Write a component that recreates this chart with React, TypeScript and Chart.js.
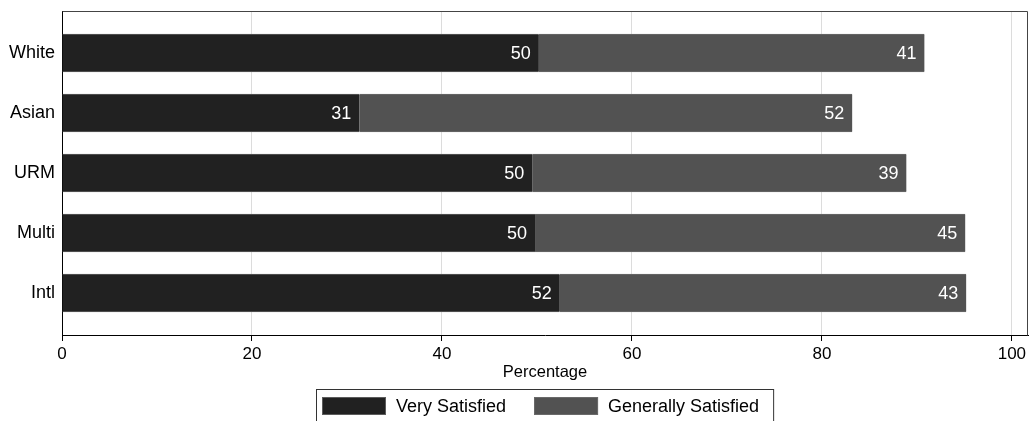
import React, { useEffect, useRef } from 'react';
import { Chart, registerables } from 'chart.js';

Chart.register(...registerables);

const categories = ['White', 'Asian', 'URM', 'Multi', 'Intl'];
const verySatisfied = [50.2, 31.3, 49.5, 49.8, 52.4];
const generallySatisfied = [40.6, 51.9, 39.4, 45.3, 42.8];
const seriesNames = ['Very Satisfied', 'Generally Satisfied'];
const seriesColors = ['#212121', '#525252'];
const seriesBorders = ['#5c5c5c', '#6a6a6a'];
const xTicks = [0, 20, 40, 60, 80, 100];
const xTitle = 'Percentage';

const FONT = '"Liberation Sans", Arial, Helvetica, sans-serif';

const frameAndLabels = {
  id: 'frameAndLabels',
  afterDatasetsDraw(chart: any) {
    const ctx = chart.ctx;
    ctx.save();
    ctx.font = `18px ${FONT}`;
    ctx.fillStyle = '#ffffff';
    ctx.textAlign = 'right';
    ctx.textBaseline = 'middle';
    chart.data.datasets.forEach((ds: any, di: number) => {
      const meta = chart.getDatasetMeta(di);
      meta.data.forEach((el: any, i: number) => {
        const p = el.getProps(['x', 'y'], true);
        const v = ds.data[i].x;
        ctx.fillText(String(Math.round(v)), p.x - 8, p.y + 1);
      });
    });
    ctx.restore();
  },
  afterDraw(chart: any) {
    const ctx = chart.ctx;
    const a = chart.chartArea;
    ctx.save();
    // frame top and right
    ctx.strokeStyle = '#444444';
    ctx.lineWidth = 1;
    ctx.beginPath();
    ctx.moveTo(Math.round(a.left) + 0.5, Math.round(a.top) + 0.5);
    ctx.lineTo(Math.round(a.right) - 0.5, Math.round(a.top) + 0.5);
    ctx.lineTo(Math.round(a.right) - 0.5, Math.round(a.bottom) + 0.5);
    ctx.stroke();

    // legend
    ctx.font = `18px ${FONT}`;
    const swW = 64, swH = 18, gapText = 10, gapItem = 28, padL = 6, padR = 14;
    const widths = seriesNames.map((n) => ctx.measureText(n).width);
    const total = padL + widths.reduce((s, w) => s + swW + gapText + w, 0) + gapItem * (seriesNames.length - 1) + padR;
    const cx = (a.left + a.right) / 2;
    const left = Math.round(cx - total / 2);
    const top = 389;
    ctx.strokeStyle = '#333333';
    ctx.strokeRect(left + 0.5, top + 0.5, total, 60);
    let x = left + padL;
    ctx.textAlign = 'left';
    ctx.textBaseline = 'middle';
    seriesNames.forEach((n, i) => {
      ctx.fillStyle = seriesColors[i];
      ctx.fillRect(x, top + 8, swW, swH);
      ctx.strokeStyle = seriesBorders[i];
      ctx.strokeRect(x + 0.5, top + 8.5, swW - 1, swH - 1);
      x += swW + gapText;
      ctx.fillStyle = '#000000';
      ctx.fillText(n, x, top + 8 + swH / 2 + 1);
      x += widths[i] + gapItem;
    });
    ctx.restore();
  },
};

export default function App() {
  const ref = useRef<HTMLCanvasElement | null>(null);
  useEffect(() => {
    if (!ref.current) return;
    const toPts = (arr: number[]) => arr.map((v, i) => ({ x: v, y: i }));
    const chart = new Chart(ref.current, {
      type: 'bar',
      data: {
        datasets: [
          {
            label: seriesNames[0],
            data: toPts(verySatisfied),
            backgroundColor: seriesColors[0],
            borderColor: seriesBorders[0],
            borderWidth: { top: 1, bottom: 1, left: 0, right: 0 },
            borderSkipped: false,
            barThickness: 38,
          },
          {
            label: seriesNames[1],
            data: toPts(generallySatisfied),
            backgroundColor: seriesColors[1],
            borderColor: seriesBorders[1],
            borderWidth: { top: 1, bottom: 1, left: 0, right: 0 },
            borderSkipped: false,
            barThickness: 38,
          },
        ] as any,
      },
      plugins: [frameAndLabels],
      options: {
        indexAxis: 'y',
        animation: false,
        responsive: true,
        maintainAspectRatio: false,
        layout: { padding: { top: 11, right: 1, left: 0, bottom: 38 } },
        plugins: {
          legend: { display: false },
          tooltip: { enabled: false },
        },
        scales: {
          x: {
            type: 'linear',
            stacked: true,
            min: 0,
            max: 101.7,
            afterBuildTicks: (scale: any) => {
              scale.ticks = xTicks.map((v) => ({ value: v }));
            },
            afterFit: (scale: any) => {
              scale.height = 48;
              scale.paddingLeft = 0;
              scale.paddingRight = 0;
            },
            grid: {
              color: '#dcdcdc',
              tickColor: '#000000',
              tickLength: 6,
              drawTicks: true,
            },
            border: { display: true, color: '#000000', width: 1 },
            ticks: {
              color: '#000000',
              font: { family: FONT, size: 17 },
              padding: 3,
              maxRotation: 0,
            },
            title: {
              display: true,
              text: xTitle,
              color: '#000000',
              font: { family: FONT, size: 16.5 },
              padding: { top: 0, bottom: 1 },
            },
          },
          y: {
            type: 'linear',
            stacked: true,
            reverse: true,
            offset: false,
            min: -0.7,
            max: 4.7,
            afterBuildTicks: (scale: any) => {
              scale.ticks = categories.map((_, i) => ({ value: i }));
            },
            afterFit: (scale: any) => {
              scale.width = 62;
              scale.paddingTop = 0;
              scale.paddingBottom = 0;
            },
            grid: { display: false, drawTicks: false },
            border: { display: true, color: '#000000', width: 1 },
            ticks: {
              color: '#000000',
              font: { family: FONT, size: 18 },
              padding: 7,
              callback: (v: any) => categories[v as number] ?? '',
            },
          },
        },
      } as any,
    });
    return () => chart.destroy();
  }, []);

  return (
    <div style={{ position: 'fixed', left: 0, top: 0, width: 1029, height: 421, background: '#ffffff' }}>
      <canvas ref={ref} />
    </div>
  );
}
